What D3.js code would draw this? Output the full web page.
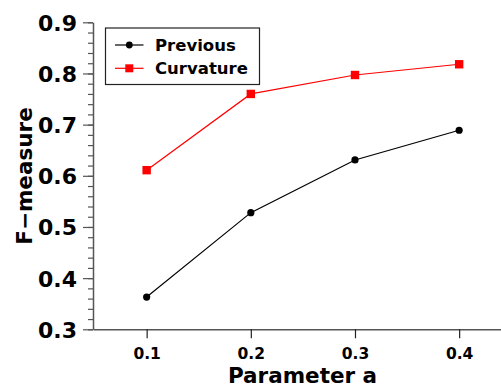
<!DOCTYPE html>
<html>
<head>
<meta charset="utf-8">
<script src="https://cdn.jsdelivr.net/npm/d3@7"></script>
<style>
  html, body { margin: 0; padding: 0; background: #fff; }
  svg { display: block; }
  text { font-family: "DejaVu Sans", sans-serif; font-weight: bold; fill: #000; }
</style>
</head>
<body>
<svg id="chart" width="501" height="388"></svg>
<script>
const params = [0.1, 0.2, 0.3, 0.4];
const previous = [0.363, 0.528, 0.631, 0.689];
const curvature = [0.611, 0.760, 0.797, 0.818];
const seriesNames = ["Previous", "Curvature"];
const xTicks = [0.1, 0.2, 0.3, 0.4];
const yTicks = [0.3, 0.4, 0.5, 0.6, 0.7, 0.8, 0.9];
const yMinorTicks = d3.range(0.3, 0.9001, 0.02);
const xTitle = "Parameter a";
const yTitle = "F\u2212measure";

const svg = d3.select("#chart");
const axisColor = "#555";

const x = d3.scaleLinear().domain([0.0485, 0.4515]).range([93, 512.8]);
const y = d3.scaleLinear().domain([0.3, 0.9]).range([329.3, 22.3]);

// Y axis: minor ticks
const yMinor = svg.append("g").attr("transform", "translate(93,0)")
  .call(d3.axisLeft(y).tickValues(yMinorTicks).tickSize(5).tickSizeOuter(0).tickFormat(""));
yMinor.select(".domain").remove();
yMinor.selectAll("line").attr("stroke", axisColor).attr("stroke-width", 1.2);

// Y axis: major ticks
const yAx = svg.append("g").attr("transform", "translate(93,0)")
  .call(d3.axisLeft(y).tickValues(yTicks).tickSize(10).tickSizeOuter(0).tickPadding(6).tickFormat(d3.format(".1f")));
yAx.select(".domain").attr("stroke", axisColor).attr("stroke-width", 1.5);
yAx.selectAll("line").attr("stroke", axisColor).attr("stroke-width", 1.2);
yAx.selectAll("text").style("font-size", "22px").attr("dy", "0.36em");

// X axis
const xAx = svg.append("g").attr("transform", "translate(0,329.3)")
  .call(d3.axisBottom(x).tickValues(xTicks).tickSize(9).tickSizeOuter(0).tickPadding(6).tickFormat(d3.format(".1f")));
xAx.select(".domain").attr("stroke", axisColor).attr("stroke-width", 1.5);
xAx.selectAll("line").attr("stroke", "#222").attr("stroke-width", 1.2);
xAx.selectAll("text").style("font-size", "15.5px").attr("dy", "0.95em");

// Titles
svg.append("text").attr("x", 302.5).attr("y", 382.5).attr("text-anchor", "middle")
  .style("font-size", "21.5px").text(xTitle);
svg.append("text").attr("transform", "translate(32,176) rotate(-90)").attr("text-anchor", "middle")
  .style("font-size", "21.5px").text(yTitle);

// Lines
const line = d3.line().x((d, i) => x(params[i])).y(d => y(d));
svg.append("path").datum(previous).attr("d", line)
  .attr("fill", "none").attr("stroke", "#000").attr("stroke-width", 1.2);
svg.append("path").datum(curvature).attr("d", line)
  .attr("fill", "none").attr("stroke", "#ff0000").attr("stroke-width", 1.2);

// Markers
svg.selectAll("circle.prev").data(previous).enter().append("circle")
  .attr("class", "prev").attr("cx", (d, i) => x(params[i])).attr("cy", d => y(d))
  .attr("r", 3.6).attr("fill", "#000");
svg.selectAll("rect.curv").data(curvature).enter().append("rect")
  .attr("class", "curv").attr("x", (d, i) => x(params[i]) - 4.2).attr("y", d => y(d) - 4.2)
  .attr("width", 8.4).attr("height", 8.4).attr("fill", "#ff0000");

// Legend
const lg = svg.append("g");
lg.append("rect").attr("x", 105.5).attr("y", 28).attr("width", 154).attr("height", 56.5)
  .attr("fill", "#fff").attr("stroke", "#222").attr("stroke-width", 1.2);
const rows = [
  { name: seriesNames[0], color: "#000", marker: "circle", y: 45 },
  { name: seriesNames[1], color: "#ff0000", marker: "square", y: 68.3 }
];
rows.forEach(r => {
  lg.append("line").attr("x1", 115).attr("x2", 143.5).attr("y1", r.y).attr("y2", r.y)
    .attr("stroke", r.color).attr("stroke-width", 1.2);
  if (r.marker === "circle") {
    lg.append("circle").attr("cx", 129.3).attr("cy", r.y).attr("r", 3.4).attr("fill", r.color);
  } else {
    lg.append("rect").attr("x", 129.3 - 4).attr("y", r.y - 4).attr("width", 8).attr("height", 8).attr("fill", r.color);
  }
  lg.append("text").attr("x", 155).attr("y", r.y).attr("dy", "0.36em")
    .style("font-size", "16.5px").text(r.name);
});
</script>
</body>
</html>
